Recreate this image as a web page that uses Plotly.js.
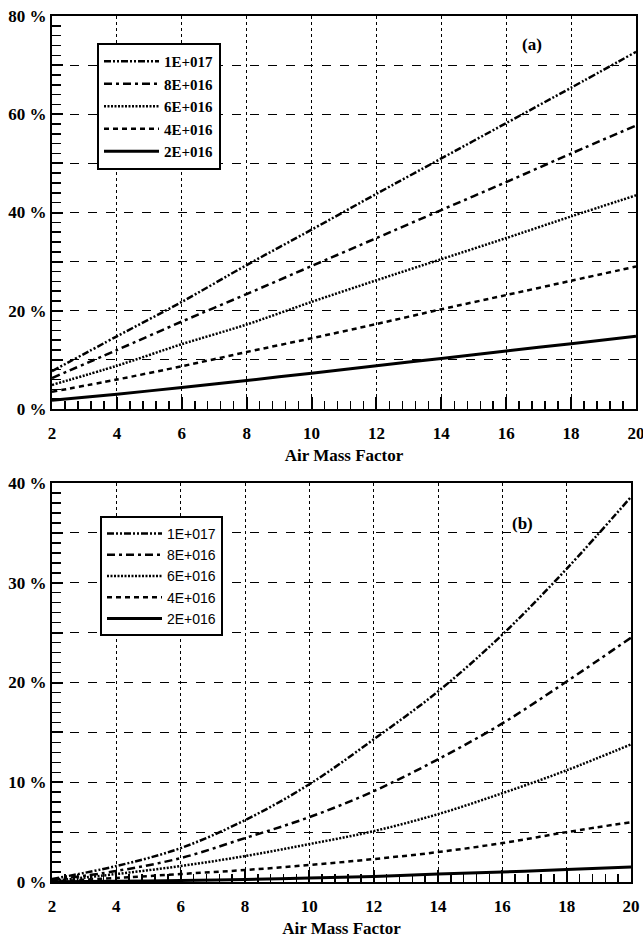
<!DOCTYPE html>
<html>
<head>
<meta charset="utf-8">
<script src="https://cdn.plot.ly/plotly-3.0.1.min.js"></script>
<style>html,body{margin:0;padding:0;background:#fff;}#chart{width:643px;height:942px;}</style>
</head>
<body>
<div id="chart"></div>
<script>
// Air Mass Factor values
const airMass = [2, 4, 6, 8, 10, 12, 14, 16, 18, 20];
const seriesNames = ["1E+017", "8E+016", "6E+016", "4E+016", "2E+016"];

// Panel (a) values, percent
const a_1e17 = [7.7, 14.8, 21.8, 29.3, 36.5, 43.8, 51.0, 58.2, 65.4, 72.7];
const a_8e16 = [6.3, 12.0, 17.8, 23.4, 29.1, 34.8, 40.5, 46.2, 52.0, 57.7];
const a_6e16 = [4.9, 8.8, 13.2, 17.2, 21.8, 26.2, 30.5, 34.8, 39.2, 43.5];
const a_4e16 = [3.5, 6.0, 8.7, 11.6, 14.4, 17.3, 20.3, 23.2, 26.1, 29.0];
const a_2e16 = [1.8, 3.0, 4.4, 5.8, 7.3, 8.8, 10.3, 11.8, 13.3, 14.8];

// Panel (b) values, percent
const b_1e17 = [0.3, 1.6, 3.4, 6.2, 9.8, 14.3, 19.1, 24.8, 31.4, 38.6];
const b_8e16 = [0.2, 1.1, 2.4, 4.4, 6.5, 9.1, 12.3, 15.9, 20.1, 24.5];
const b_6e16 = [0.1, 0.8, 1.6, 2.6, 3.8, 5.1, 6.8, 8.9, 11.2, 13.8];
const b_4e16 = [0.05, 0.4, 0.8, 1.2, 1.7, 2.3, 3.0, 3.9, 5.0, 6.0];
const b_2e16 = [0.02, 0.08, 0.15, 0.25, 0.4, 0.55, 0.8, 1.0, 1.25, 1.5];

const axisTitle = "Air Mass Factor";
const panelLabels = ["(a)", "(b)"];

const dashes = ["7px,2px,2px,2px,2px,2px", "8px,4px,3px,4px", "2px,1.5px", "5px,4px", "solid"];
const widths = [2.5, 2.5, 2.5, 2.5, 3];

const aData = [a_1e17, a_8e16, a_6e16, a_4e16, a_2e16];
const bData = [b_1e17, b_8e16, b_6e16, b_4e16, b_2e16];

const traces = [];
aData.forEach((ys, i) => traces.push({
  x: airMass, y: ys, type: "scatter", mode: "lines", name: seriesNames[i],
  xaxis: "x", yaxis: "y", legend: "legend",
  line: {color: "black", width: widths[i], dash: dashes[i], shape: "spline", smoothing: 0.8}
}));
bData.forEach((ys, i) => traces.push({
  x: airMass, y: ys, type: "scatter", mode: "lines", name: seriesNames[i],
  xaxis: "x2", yaxis: "y2", legend: "legend2",
  line: {color: "black", width: widths[i], dash: dashes[i], shape: "spline", smoothing: 1}
}));

const serifBold = {family: "Liberation Serif, Times New Roman, serif", size: 17, color: "black", weight: 700};

function xAxis(anchor) {
  return {
    anchor: anchor, range: [2, 20],
    tickmode: "linear", tick0: 2, dtick: 2,
    ticks: "inside", ticklen: 12, tickwidth: 2, tickcolor: "black",
    minor: {tickmode: "linear", dtick: 0.4, tick0: 2, ticks: "inside", ticklen: 8, tickwidth: 1.5, tickcolor: "black", showgrid: false},
    showline: true, linecolor: "black", linewidth: 2, mirror: true,
    showgrid: true, gridcolor: "black", gridwidth: 1, griddash: "dot",
    zeroline: false, tickfont: serifBold, ticklabelstandoff: 8, ticklabeloverflow: "allow",
    title: {text: axisTitle, font: {family: "Liberation Serif, serif", size: 17, color: "black", weight: 700}, standoff: 7}
  };
}
function yAxis(anchor, range, dtick, minorD) {
  return {
    anchor: anchor, range: range,
    tickmode: "linear", tick0: 0, dtick: dtick, ticklabelstep: 2, ticksuffix: " %",
    ticks: "inside", ticklen: 11, tickwidth: 2, tickcolor: "black",
    minor: {tickmode: "linear", dtick: minorD, tick0: 0, ticks: "inside", ticklen: 9, tickwidth: 1.5, tickcolor: "black", showgrid: false},
    showline: true, linecolor: "black", linewidth: 2, mirror: true,
    showgrid: true, gridcolor: "black", gridwidth: 1, griddash: "dash",
    zeroline: false, tickfont: serifBold
  };
}

const xa = xAxis("y"); xa.domain = [52/643, 636/643];
const xb = xAxis("y2"); xb.domain = [52/643, 631/643];
const ya = yAxis("x", [0, 80], 10, 2); ya.domain = [1 - 409/942, 1 - 16/942];
const yb = yAxis("x2", [0, 40], 5, 1); yb.domain = [1 - 882/942, 1 - 483/942];

const layout = {
  width: 643, height: 942,
  margin: {l: 0, r: 0, t: 0, b: 0},
  paper_bgcolor: "white", plot_bgcolor: "white",
  showlegend: true,
  xaxis: xa, yaxis: ya, xaxis2: xb, yaxis2: yb,
  legend: {
    x: 97/643, y: 1 - 43/942, xanchor: "left", yanchor: "top",
    bgcolor: "white", bordercolor: "black", borderwidth: 2,
    font: {family: "Liberation Serif, serif", size: 15, color: "black", weight: 700},
    itemwidth: 55, tracegroupgap: 0, traceorder: "normal"
  },
  legend2: {
    x: 100/643, y: 1 - 516/942, xanchor: "left", yanchor: "top",
    bgcolor: "white", bordercolor: "black", borderwidth: 2,
    font: {family: "Liberation Sans, Arial, sans-serif", size: 14, color: "black"},
    itemwidth: 55, tracegroupgap: 0, traceorder: "normal"
  },
  annotations: [
    {text: panelLabels[0], x: 532/643, y: 1 - 45/942, xref: "paper", yref: "paper", showarrow: false,
     xanchor: "center", yanchor: "middle",
     font: {family: "Liberation Serif, serif", size: 17, color: "black", weight: 700}},
    {text: panelLabels[1], x: 522/643, y: 1 - 523/942, xref: "paper", yref: "paper", showarrow: false,
     xanchor: "center", yanchor: "middle",
     font: {family: "Liberation Serif, serif", size: 17, color: "black", weight: 700}}
  ]
};

Plotly.newPlot("chart", traces, layout, {staticPlot: true, displayModeBar: false});
</script>
</body>
</html>
